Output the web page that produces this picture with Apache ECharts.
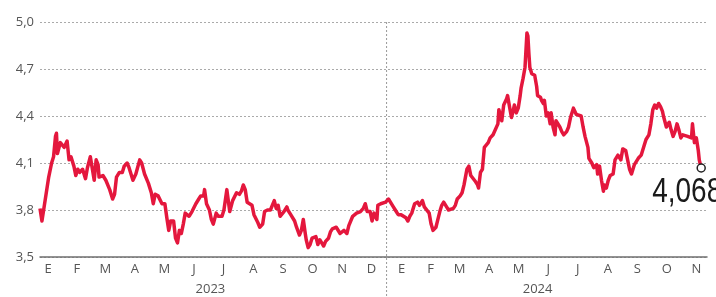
<!DOCTYPE html>
<html>
<head>
<meta charset="utf-8">
<script src="https://cdn.jsdelivr.net/npm/echarts@6/dist/echarts.min.js"></script>
<style>
html, body { margin: 0; padding: 0; background: #fff; }
#chart { width: 716px; height: 297px; }
</style>
</head>
<body>
<div id="chart"></div>
<script>
// día del año (desde el 1 de enero) y valor
var dias2023 = [7, 9, 11, 13, 16, 19, 21, 23, 24, 25, 28, 30, 32, 35, 37, 39, 42, 44, 46, 48, 51, 54, 56, 59, 61, 63, 65, 67, 68, 72, 75, 77, 79, 82, 84, 86, 89, 92, 94, 97, 99, 101, 103, 106, 108, 110, 112, 115, 119, 122, 124, 126, 129, 131, 133, 136, 138, 140, 142, 145, 147, 149, 151, 153, 155, 157, 159, 161, 164, 166, 168, 171, 173, 176, 177, 179, 182, 184, 186, 189, 191, 193, 195, 197, 200, 202, 203, 206, 208, 210, 213, 215, 217, 219, 221, 223, 226, 228, 230, 232, 234, 237, 239, 242, 245, 247, 249, 251, 253, 255, 257, 259, 262, 263, 266, 268, 270, 272, 275, 277, 279, 281, 282, 284, 286, 288, 290, 292, 294, 296, 298, 300, 302, 305, 307, 309, 311, 313, 315, 317, 319, 321, 324, 326, 328, 330, 332, 334, 336, 338, 341, 343, 345, 348, 350, 352, 355, 356, 359, 361, 364];
var tasa2023 = [3.81, 3.73, 3.81, 3.82, 4.01, 4.10, 4.14, 4.27, 4.29, 4.16, 4.23, 4.24, 4.20, 4.24, 4.12, 4.14, 4.08, 4.02, 4.06, 4.04, 4.06, 4.00, 4.07, 4.14, 4.13, 3.99, 4.12, 4.09, 4.01, 4.02, 3.99, 3.99, 3.93, 3.87, 3.90, 4.01, 4.04, 4.04, 4.08, 4.10, 4.07, 4.06, 3.99, 4.03, 4.04, 4.12, 4.10, 4.03, 3.97, 3.91, 3.84, 3.90, 3.89, 3.90, 3.84, 3.84, 3.75, 3.67, 3.73, 3.73, 3.62, 3.59, 3.67, 3.65, 3.71, 3.78, 3.79, 3.76, 3.79, 3.79, 3.84, 3.87, 3.89, 3.89, 3.93, 3.84, 3.80, 3.74, 3.71, 3.78, 3.76, 3.77, 3.76, 3.80, 3.93, 3.92, 3.79, 3.86, 3.86, 3.91, 3.90, 3.92, 3.96, 3.93, 3.85, 3.86, 3.83, 3.77, 3.77, 3.72, 3.69, 3.71, 3.79, 3.80, 3.80, 3.81, 3.86, 3.81, 3.83, 3.76, 3.75, 3.79, 3.82, 3.80, 3.77, 3.76, 3.73, 3.69, 3.64, 3.67, 3.74, 3.65, 3.61, 3.56, 3.58, 3.62, 3.61, 3.63, 3.58, 3.61, 3.59, 3.57, 3.60, 3.62, 3.66, 3.68, 3.67, 3.69, 3.68, 3.65, 3.66, 3.67, 3.65, 3.70, 3.70, 3.76, 3.77, 3.78, 3.77, 3.79, 3.81, 3.84, 3.79, 3.79, 3.73, 3.78, 3.74, 3.83, 3.84, 3.83, 3.85];
var dias2024 = [2, 4, 7, 9, 12, 15, 17, 20, 22, 24, 26, 29, 32, 34, 37, 39, 41, 44, 46, 48, 51, 53, 55, 57, 59, 62, 64, 66, 69, 71, 73, 76, 78, 80, 83, 85, 87, 89, 92, 94, 95, 97, 99, 101, 103, 105, 107, 108, 110, 112, 115, 116, 118, 119, 121, 124, 125, 127, 129, 131, 132, 134, 136, 138, 139, 141, 143, 144, 145, 146, 147, 148, 150, 151, 153, 155, 156, 159, 160, 162, 163, 165, 167, 169, 170, 172, 174, 175, 177, 179, 181, 183, 186, 188, 190, 193, 194, 196, 198, 201, 203, 205, 208, 209, 212, 214, 217, 218, 220, 222, 224, 225, 227, 229, 231, 234, 236, 239, 242, 244, 247, 249, 251, 253, 256, 258, 260, 263, 266, 268, 271, 273, 275, 277, 279, 281, 283, 285, 286, 289, 291, 292, 294, 296, 298, 300, 302, 304, 306, 308, 311, 313, 315, 316, 318, 320, 322, 323, 325];
var tasa2024 = [3.87, 3.85, 3.82, 3.80, 3.77, 3.77, 3.76, 3.75, 3.73, 3.76, 3.78, 3.84, 3.85, 3.83, 3.86, 3.82, 3.81, 3.78, 3.71, 3.67, 3.69, 3.74, 3.79, 3.83, 3.85, 3.82, 3.80, 3.79, 3.81, 3.83, 3.87, 3.89, 3.91, 3.96, 4.06, 4.08, 4.02, 4.03, 3.98, 3.96, 3.94, 4.04, 4.06, 4.20, 4.21, 4.23, 4.26, 4.25, 4.28, 4.27, 4.35, 4.44, 4.45, 4.37, 4.47, 4.51, 4.53, 4.46, 4.39, 4.44, 4.47, 4.42, 4.45, 4.53, 4.58, 4.64, 4.71, 4.82, 4.93, 4.91, 4.80, 4.71, 4.67, 4.68, 4.66, 4.59, 4.53, 4.52, 4.50, 4.48, 4.50, 4.40, 4.42, 4.35, 4.42, 4.33, 4.28, 4.37, 4.37, 4.33, 4.30, 4.28, 4.30, 4.33, 4.39, 4.45, 4.44, 4.41, 4.40, 4.40, 4.33, 4.27, 4.20, 4.13, 4.10, 4.07, 4.09, 4.03, 4.08, 3.99, 3.92, 3.96, 3.94, 3.99, 4.02, 4.03, 4.12, 4.15, 4.12, 4.19, 4.18, 4.12, 4.06, 4.03, 4.09, 4.08, 4.13, 4.15, 4.21, 4.25, 4.28, 4.35, 4.44, 4.47, 4.45, 4.48, 4.46, 4.43, 4.40, 4.33, 4.34, 4.36, 4.31, 4.27, 4.30, 4.35, 4.31, 4.26, 4.28, 4.29, 4.27, 4.28, 4.26, 4.35, 4.23, 4.26, 4.18, 4.12, 4.068];

var letrasMes = ['E', 'F', 'M', 'A', 'M', 'J', 'J', 'A', 'S', 'O', 'N', 'D'];
var diasMes2023 = [31, 28, 31, 30, 31, 30, 31, 31, 30, 31, 30, 31];
var diasMes2024 = [31, 29, 31, 30, 31, 30, 31, 31, 30, 31, 30];
var anios = ['2023', '2024'];
var centroAnio = [183, 521];

var ROJO = '#e4173d';

// serie continua: días contados desde el 1/1/2023
var datos = [];
for (var i = 0; i < dias2023.length; i++) datos.push([dias2023[i], tasa2023[i]]);
for (var j = 0; j < dias2024.length; j++) datos.push([dias2024[j] + 365, tasa2024[j]]);
var ultimo = datos[datos.length - 1];

// centro de cada mes para las letras
var centrosMes = [];
var nombrePorDia = {};
var inicio = 0;
diasMes2023.concat(diasMes2024).forEach(function (len, k) {
    var c = inicio + len / 2;
    centrosMes.push(c);
    nombrePorDia[c] = letrasMes[k % 12];
    inicio += len;
});
var nombreAnio = {};
centroAnio.forEach(function (d, k) { nombreAnio[d] = anios[k]; });

function coma(v) { return String(v).replace('.', ','); }

var myChart = echarts.init(document.getElementById('chart'));
var option = {
    animation: false,
    grid: { left: 40, right: 9, top: 22, bottom: 40 },
    xAxis: [{
        type: 'value',
        min: 7,
        max: 696,
        axisLine: { show: true, lineStyle: { color: '#6f6f6f', width: 1.5 } },
        axisTick: { show: false },
        splitLine: { show: false },
        axisLabel: {
            customValues: centrosMes,
            color: '#555',
            fontSize: 13,
            fontFamily: 'Open Sans, sans-serif',
            margin: 6,
            formatter: function (v) { return nombrePorDia[v] || ''; }
        }
    }, {
        type: 'value',
        min: 7,
        max: 696,
        position: 'bottom',
        offset: 20,
        axisLine: { show: false },
        axisTick: { show: false },
        splitLine: { show: false },
        axisLabel: {
            customValues: centroAnio,
            color: '#555',
            fontSize: 13,
            fontFamily: 'Open Sans, sans-serif',
            margin: 6,
            formatter: function (v) { return nombreAnio[v] || ''; }
        }
    }],
    yAxis: {
        type: 'value',
        min: 3.5,
        max: 5.0,
        interval: 0.3,
        axisLine: { show: false },
        axisTick: { show: false },
        splitLine: { lineStyle: { color: '#aaa', type: [2, 2], width: 1 } },
        axisLabel: {
            color: '#555',
            fontSize: 13,
            fontFamily: 'Open Sans, sans-serif',
            margin: 6,
            formatter: function (v) { return v.toFixed(1).replace('.', ','); }
        }
    },
    series: [{
        type: 'line',
        data: datos,
        showSymbol: false,
        lineStyle: { color: ROJO, width: 3.5, join: 'round' },
        itemStyle: { color: ROJO },
        markPoint: {
            data: [{
                coord: ultimo,
                symbol: 'circle',
                symbolSize: 8,
                itemStyle: { color: '#fff', borderColor: '#222', borderWidth: 1.5 },
                label: { show: false }
            }]
        }
    }]
};
myChart.setOption(option);

// separador entre 2023 y 2024 y etiqueta del último valor (texto estrecho)
var xSep = myChart.convertToPixel({ xAxisIndex: 0 }, 365);
var yTop = myChart.convertToPixel({ yAxisIndex: 0 }, 5.0);
var pUlt = myChart.convertToPixel({ gridIndex: 0 }, ultimo);
myChart.setOption({
    graphic: [{
        type: 'line',
        shape: { x1: xSep, y1: yTop, x2: xSep, y2: 297 },
        style: { stroke: '#999', lineWidth: 1, lineDash: [2, 2] },
        z: 0
    }, {
        type: 'text',
        x: pUlt[0] - 49,
        y: pUlt[1] + 7,
        scaleX: 0.8,
        originX: 0,
        originY: 0,
        style: {
            text: coma(ultimo[1]),
            fill: '#1a1a1a',
            font: '35px "Liberation Sans", Arial, sans-serif',
            textVerticalAlign: 'top'
        },
        z: 10
    }]
});
</script>
</body>
</html>
